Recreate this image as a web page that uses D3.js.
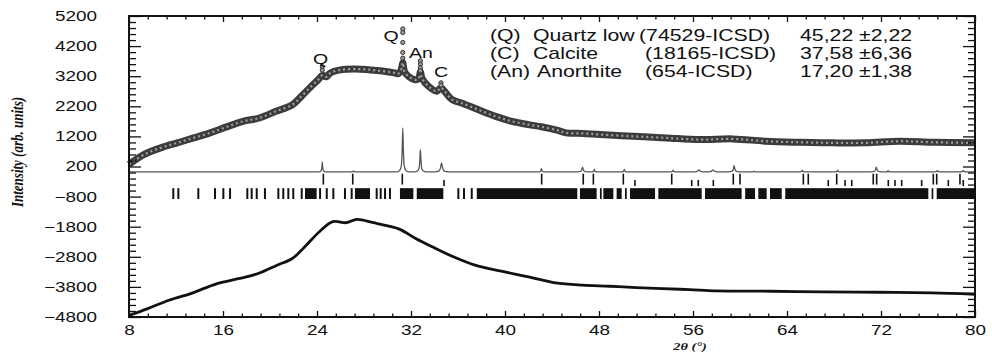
<!DOCTYPE html>
<html><head><meta charset="utf-8">
<script src="https://cdn.jsdelivr.net/npm/d3@7"></script>
<style>body{margin:0;background:#fff}svg{display:block}</style>
</head><body>
<svg id="c" width="992" height="352"></svg>
<script>
// ---------- data ----------
const xTicks = [8,16,24,32,40,48,56,64,72,80];
const yTicks = [-4800,-3800,-2800,-1800,-800,200,1200,2200,3200,4200,5200];

// observed pattern (upper curve)
const obsX = [8.0,9.3,10.7,12.1,13.5,14.9,16.3,17.7,19.1,20.5,21.9,22.8,23.5,24.1,24.45,24.8,25.1,26.0,27.7,29.1,30.5,30.9,31.15,31.3,31.45,31.8,32.4,32.65,32.8,32.95,33.5,34.2,34.55,34.9,35.5,36.3,37.7,39.2,40.6,42.0,43.1,44.5,45.2,46.6,48.1,50.9,53.7,56.6,59.4,62.2,65.1,67.9,70.7,73.6,76.4,80.0];
const obsY = [270,600,820,985,1150,1316,1515,1700,1812,2032,2253,2584,2860,3080,3230,3180,3300,3410,3435,3390,3320,3280,3400,3650,3350,3190,3080,3120,3350,3120,2860,2700,2820,2680,2420,2310,2090,1865,1700,1590,1520,1400,1316,1300,1260,1204,1150,1094,1117,1040,1005,985,985,1040,1005,985];
// isolated observed points above the peaks
const dotX = [24.45,24.45,31.3,31.3,31.3,31.3,31.3,32.8,32.8,32.8,32.8,34.55,34.55];
const dotY = [3400,3520,4770,4650,4320,3990,3800,3710,3600,3480,3380,2980,2900];

// calculated pattern
const calcBase = 20;
const calcPeakPos    = [24.45,27.1,31.3,32.8,34.6,43.1,46.6,47.6,50.15,54.3,56.5,57.7,59.5,61.2,65.3,68.3,71.6,72.6,76.8,79.0];
const calcPeakHeight = [330,30,1460,740,300,110,160,80,80,55,70,70,210,25,55,55,160,40,50,50];
const calcPeakWidth  = [0.35,0.4,0.5,0.5,0.8,0.4,0.6,0.4,0.4,0.4,0.9,0.9,0.6,0.4,0.4,0.4,0.6,0.4,0.4,0.4];

// Bragg reflection markers
const braggQ = [24.54,27.04,31.26,43.12,46.66,47.52,50.07,54.19,59.43,60.0,65.39,65.81,68.23,71.34,71.63,76.45,76.74,78.72];
const braggC = [34.81,51.06,55.89,56.45,57.73,67.51,68.94,69.51,72.62,73.19,73.76,75.46,77.73,79.0];
const braggAn = [11.77,12.2,13.9,15.32,16.03,16.6,18.07,18.44,18.87,19.57,20.71,21.13,21.56,21.98,22.7,24.26,24.83,25.39,26.38,26.95,29.08,29.42,29.79,30.21,36.03,36.51,37.17];
const braggAnBlockStart = [22.98,27.23,31.06,32.49,37.6,46.38,48.08,48.37,49.5,50.21,50.64,53.05,57.02,60.44,61.56,62.55,63.85,76.31,76.74];
const braggAnBlockEnd   = [23.97,28.51,32.2,34.75,46.15,47.8,48.23,49.22,49.93,50.36,52.77,56.74,60.14,61.28,62.27,63.55,76.03,76.45,80.0];

// difference curve (lower)
const diffX = [8.0,9.6,11.4,13.25,15.5,17.4,19.0,20.6,21.9,23.1,24.2,25.35,26.5,27.4,28.8,30.1,31.06,32.4,33.8,35.6,37.45,39.7,42.0,44.3,46.6,48.9,51.2,53.4,55.7,58.0,62.6,67.1,71.7,76.3,80.0];
const diffY = [-4744,-4520,-4244,-4022,-3690,-3520,-3355,-3078,-2856,-2410,-1967,-1633,-1667,-1555,-1667,-1778,-1889,-2190,-2467,-2800,-3078,-3278,-3467,-3667,-3744,-3778,-3822,-3856,-3889,-3933,-3944,-3967,-3978,-4000,-4044];

const peakLabels = ["Q","Q","An","C"];
const peakLabelX = [24.3,30.3,32.85,34.55];
const peakLabelY = [3800,4560,4000,3340];

const legendCode  = ["(Q)","(C)","(An)"];
const legendName  = ["Quartz low","Calcite","Anorthite"];
const legendICSD  = ["(74529-ICSD)","(18165-ICSD)","(654-ICSD)"];
const legendValue = ["45,22 \u00b12,22","37,58 \u00b16,36","17,20 \u00b11,38"];

// ---------- drawing ----------
const svg = d3.select("#c");
const L=129, R=975, T=16, B=317;
const x = d3.scaleLinear().domain([8,80]).range([L,R]);
const y = d3.scaleLinear().domain([-4800,5200]).range([B,T]);
const SX = 1.35;

// Bragg markers
svg.append("g").selectAll("line").data(braggQ).join("line")
  .attr("x1",d=>x(d)).attr("x2",d=>x(d)).attr("y1",y(-40)).attr("y2",y(-400))
  .attr("stroke","#111").attr("stroke-width",1.6);
svg.append("g").selectAll("line").data(braggC).join("line")
  .attr("x1",d=>x(d)).attr("x2",d=>x(d)).attr("y1",y(-250)).attr("y2",y(-450))
  .attr("stroke","#111").attr("stroke-width",1.6);
svg.append("g").selectAll("line").data(braggAn).join("line")
  .attr("x1",d=>x(d)).attr("x2",d=>x(d)).attr("y1",y(-520)).attr("y2",y(-880))
  .attr("stroke","#111").attr("stroke-width",2);
svg.append("g").selectAll("rect").data(braggAnBlockStart).join("rect")
  .attr("x",(d,i)=>x(d)).attr("width",(d,i)=>Math.max(1,x(braggAnBlockEnd[i])-x(d)))
  .attr("y",y(-520)).attr("height",y(-880)-y(-520)).attr("fill","#111");

// calculated pattern
const shapeOff = [-1,-0.5,-0.25,-0.1,0,0.1,0.25,0.5,1];
const shapeH   = [0,0.04,0.14,0.5,1,0.5,0.14,0.04,0];
let calcPts = [[8,calcBase],[80,calcBase]];
calcPeakPos.forEach((p,i)=>{
  shapeOff.forEach((o,k)=>calcPts.push([p+o*calcPeakWidth[i], calcBase+shapeH[k]*calcPeakHeight[i]]));
});
calcPts.sort((a,b)=>a[0]-b[0]);
svg.append("path").datum(calcPts)
  .attr("d",d3.line().x(d=>x(d[0])).y(d=>y(d[1])).curve(d3.curveMonotoneX))
  .attr("fill","none").attr("stroke","#555").attr("stroke-width",1.3);

// observed band
const obsLine = d3.line().x((d,i)=>x(obsX[i])).y(d=>y(d)).curve(d3.curveCatmullRom.alpha(0.5));
svg.append("path").datum(obsY).attr("d",obsLine)
  .attr("fill","none").attr("stroke","#3c3c3c").attr("stroke-width",7).attr("stroke-linejoin","round");
svg.append("path").datum(obsY).attr("d",obsLine)
  .attr("fill","none").attr("stroke","#a0a0a0").attr("stroke-width",2.2).attr("stroke-dasharray","2,3");
svg.append("g").selectAll("circle").data(dotY).join("circle")
  .attr("cx",(d,i)=>x(dotX[i])).attr("cy",d=>y(d)).attr("r",2.1)
  .attr("fill","#999").attr("stroke","#333").attr("stroke-width",1);

// difference curve
svg.append("path").datum(diffY)
  .attr("d",d3.line().x((d,i)=>x(diffX[i])).y(d=>y(d)).curve(d3.curveCatmullRom.alpha(0.5)))
  .attr("fill","none").attr("stroke","#111").attr("stroke-width",2.8).attr("stroke-linejoin","round");

// axes
const yMinor = d3.range(-4800,5201,200).filter(v=>!yTicks.includes(v));
const xMinor = d3.range(0,46).map(i=>8+i*1.6).filter(v=>Math.abs(v/8-Math.round(v/8))>1e-6);
function clean(g){g.select(".domain").remove();}
const fontS = "Liberation Sans, Arial, sans-serif";

svg.append("g").attr("transform",`translate(${L},0)`)
  .call(d3.axisLeft(y).tickValues(yMinor).tickSize(-7).tickFormat("")).call(clean);
const gl = svg.append("g").attr("transform",`translate(${L},0)`)
  .call(d3.axisLeft(y).tickValues(yTicks).tickSize(-12).tickSizeOuter(0).tickFormat(d3.format("d"))).call(clean);
gl.selectAll("text").attr("x",-32/SX).attr("transform",`scale(${SX},1)`)
  .style("font-family",fontS).style("font-size","14px").attr("fill","#111");

svg.append("g").attr("transform",`translate(${R},0)`)
  .call(d3.axisRight(y).tickValues(yMinor).tickSize(-7).tickFormat("")).call(clean);
svg.append("g").attr("transform",`translate(${R},0)`)
  .call(d3.axisRight(y).tickValues(yTicks).tickSize(-12).tickFormat("")).call(clean);

svg.append("g").attr("transform",`translate(0,${B})`)
  .call(d3.axisBottom(x).tickValues(xMinor).tickSize(-3.5).tickFormat("")).call(clean);
const gb = svg.append("g").attr("transform",`translate(0,${B})`)
  .call(d3.axisBottom(x).tickValues(xTicks).tickSize(-6).tickFormat(d3.format("d"))).call(clean);
gb.selectAll("text").attr("y",8).attr("transform",`scale(${SX},1)`)
  .style("font-family",fontS).style("font-size","14px").attr("fill","#111");

svg.append("g").attr("transform",`translate(0,${T})`)
  .call(d3.axisTop(x).tickValues(xMinor).tickSize(-3.5).tickFormat("")).call(clean);
svg.append("g").attr("transform",`translate(0,${T})`)
  .call(d3.axisTop(x).tickValues(xTicks).tickSize(-6).tickFormat("")).call(clean);

svg.selectAll(".tick line").attr("stroke","#111").attr("stroke-width",1.3);

// frame
svg.append("rect").attr("x",L).attr("y",T).attr("width",R-L).attr("height",B-T)
  .attr("fill","none").attr("stroke","#111").attr("stroke-width",2);

// peak labels
svg.append("g").selectAll("text").data(peakLabels).join("text")
  .attr("transform",(d,i)=>`translate(${x(peakLabelX[i])},${y(peakLabelY[i])}) scale(1.3,1)`)
  .attr("text-anchor","middle").attr("dy","0.36em")
  .style("font-family",fontS).style("font-size","15px").attr("fill","#111").text(d=>d);

// legend
const rowY = [35,53.3,71.6];
const lg = svg.append("g").style("font-family",fontS).style("font-size","16px").attr("fill","#111");
function legCol(arr, xs){
  lg.append("g").selectAll("text").data(arr).join("text")
    .attr("transform",(d,i)=>`translate(${Array.isArray(xs)?xs[i]:xs},${rowY[i]}) scale(1.33,1)`)
    .attr("dy","0.36em").text(d=>d);
}
legCol(legendCode,490);
legCol(legendName,[533,533,537]);
legCol(legendICSD,[639,645,645]);
legCol(legendValue,800);

// axis titles
svg.append("text").attr("transform","translate(17,152) rotate(-90) scale(1,1.3)")
  .attr("text-anchor","middle").attr("dy","0.35em")
  .style("font-family","Liberation Serif, Times New Roman, serif").style("font-size","13px")
  .style("font-weight","bold").style("font-style","italic").attr("fill","#111")
  .text("Intensity (arb. units)");
svg.append("text").attr("transform","translate(690,346) scale(1.3,1)")
  .attr("text-anchor","middle").attr("dy","0.35em")
  .style("font-family","Liberation Serif, Times New Roman, serif").style("font-size","11px")
  .style("font-weight","bold").style("font-style","italic").attr("fill","#111")
  .text("2\u03b8 (\u00b0)");
</script>
</body></html>
